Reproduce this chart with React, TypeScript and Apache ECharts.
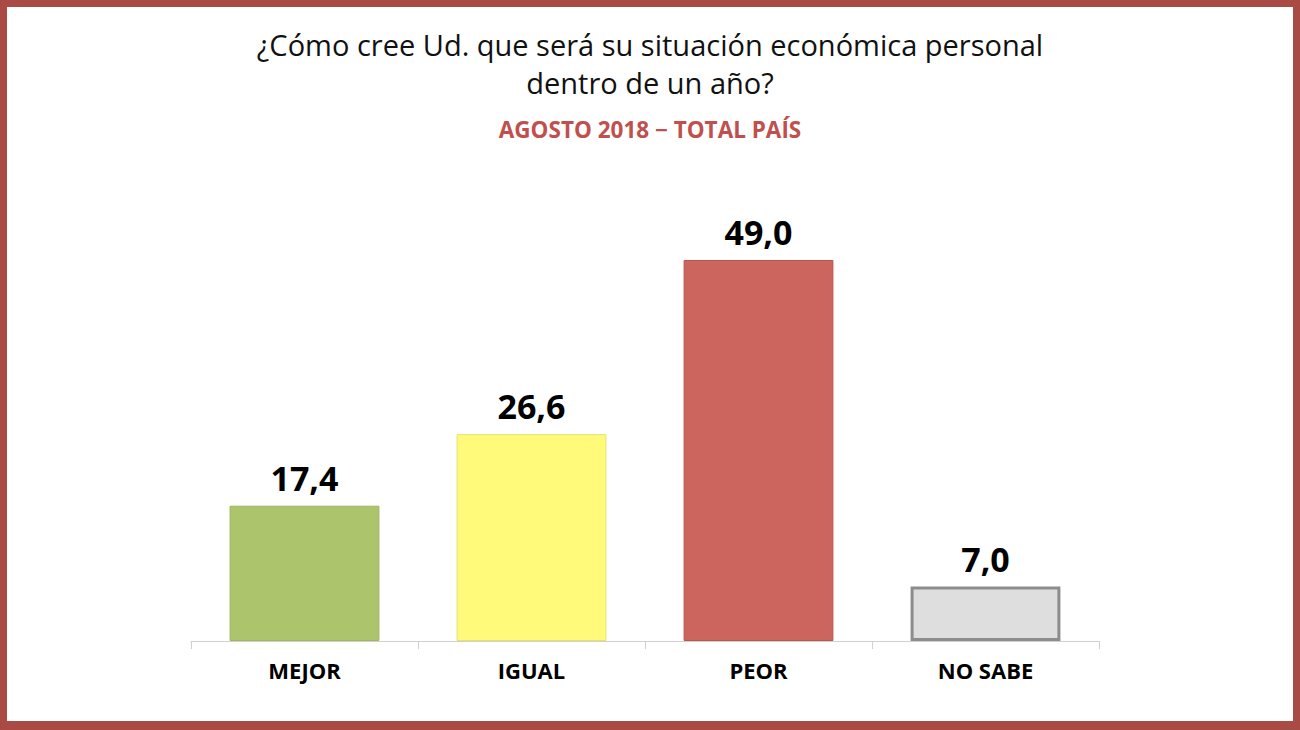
import React, { useEffect, useRef } from "react";
import * as echarts from "echarts";

const categories = ["MEJOR", "IGUAL", "PEOR", "NO SABE"];
const values = [17.4, 26.6, 49.0, 7.0];
const barColors = ["#ACC46C", "#FFFA7A", "#CC655E", "#DEDEDE"];
const barBorders = ["#9DB55E", "#E8E070", "#B85750", "#8C8C8C"];
const barBorderWidths = [1, 1, 1, 3];
const titleLines = ["¿Cómo cree Ud. que será su situación económica personal", "dentro de un año?"];
const subtitle = "AGOSTO 2018 − TOTAL PAÍS";

export default function App() {
  const ref = useRef<HTMLDivElement>(null);
  useEffect(() => {
    if (!ref.current) return;
    const chart = echarts.init(ref.current, null, { renderer: "svg" });
    const font = "'Open Sans', 'Noto Sans', sans-serif";
    chart.setOption({
      animation: false,
      backgroundColor: "#FFFFFF",
      title: [
        {
          text: titleLines.join("\n"),
          left: "center",
          top: 20,
          textStyle: { fontFamily: font, fontSize: 29, fontWeight: "normal", color: "#111111", lineHeight: 38 },
        },
        {
          text: subtitle,
          left: "center",
          top: 113,
          textStyle: { fontFamily: font, fontSize: 22.5, fontWeight: "bold", color: "#C0504D" },
        },
      ],
      grid: { left: 191, right: 201, top: 641 - (60 * 381) / 49, bottom: 89 },
      xAxis: {
        type: "category",
        data: categories,
        axisLine: { show: true, lineStyle: { color: "#D0D0D0", width: 1 } },
        axisTick: { show: true, length: 8, lineStyle: { color: "#D0D0D0" } },
        axisLabel: { fontFamily: font, fontSize: 22, fontWeight: "bold", color: "#000000", margin: 18 },
      },
      yAxis: { type: "value", min: 0, max: 60, show: false, splitLine: { show: false } },
      series: [
        {
          type: "bar",
          barWidth: "66%",
          data: values.map((v, i) => ({
            value: v,
            itemStyle: { color: barColors[i], borderColor: barBorders[i], borderWidth: barBorderWidths[i] },
          })),
          label: {
            show: true,
            position: "top",
            distance: 11,
            fontFamily: font,
            fontSize: 34,
            fontWeight: "bold",
            color: "#000000",
            formatter: (p: any) => Number(p.value).toFixed(1).replace(".", ","),
          },
        },
      ],
      graphic: [
        { type: "rect", shape: { x: 0, y: 0, width: 1300, height: 7 }, style: { fill: "#A94A45" } },
        { type: "rect", shape: { x: 0, y: 721, width: 1300, height: 9 }, style: { fill: "#A94A45" } },
        { type: "rect", shape: { x: 0, y: 0, width: 7, height: 730 }, style: { fill: "#A94A45" } },
        { type: "rect", shape: { x: 1293, y: 0, width: 7, height: 730 }, style: { fill: "#A94A45" } },
      ],
    });
    return () => chart.dispose();
  }, []);
  return <div ref={ref} style={{ position: "fixed", left: 0, top: 0, width: 1300, height: 730 }} />;
}
